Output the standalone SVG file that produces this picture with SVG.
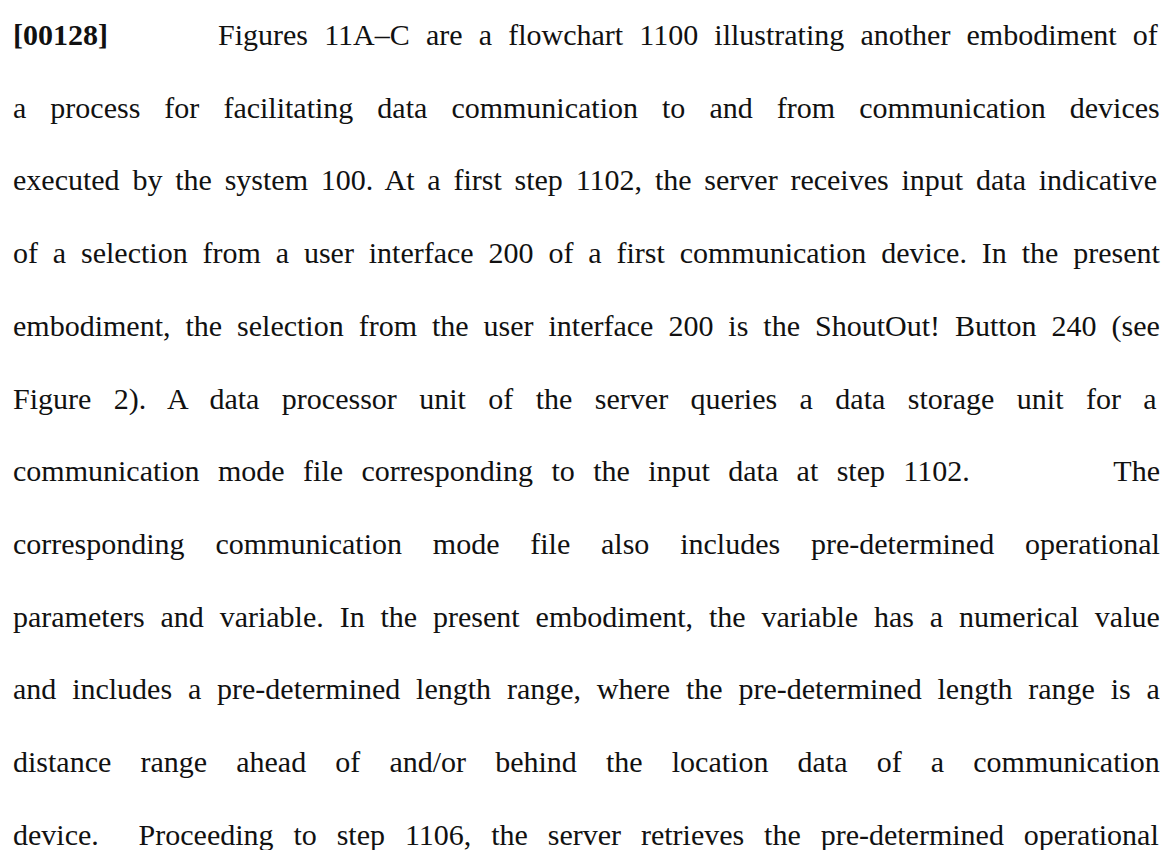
<svg xmlns="http://www.w3.org/2000/svg" width="1173" height="850" viewBox="0 0 1173 850">
  <style>
    .t { font-family: "Liberation Serif", "Times New Roman", serif; font-size: 30px; fill: #111; white-space: pre; }
    .b { font-weight: bold; }
  </style>
  <rect width="1173" height="850" fill="#fff"/>
  <!-- justified paragraph: each line stretched to the 13..1160 column by word spacing -->
  <g id="paragraph">
    <text class="t b" x="13" y="45">[00128]</text>
    <text class="t" x="218" y="45" style="word-spacing:8.66px">Figures 11A–C are a flowchart 1100 illustrating another embodiment of</text>
    <text class="t" x="13" y="117.7" style="word-spacing:16.54px">a process for facilitating data communication to and from communication devices</text>
    <text class="t" x="13" y="190.4" style="word-spacing:5.31px">executed by the system 100. At a first step 1102, the server receives input data indicative</text>
    <text class="t" x="13" y="263.1" style="word-spacing:7.37px">of a selection from a user interface 200 of a first communication device. In the present</text>
    <text class="t" x="13" y="335.8" style="word-spacing:7.47px">embodiment, the selection from the user interface 200 is the ShoutOut! Button 240 (see</text>
    <text class="t" x="13" y="408.5" style="word-spacing:14.93px">Figure 2). A data processor unit of the server queries a data storage unit for a</text>
    <text class="t" x="13" y="481.2" style="word-spacing:10.89px">communication mode file corresponding to the input data at step 1102.</text>
    <text class="t" x="1160" y="481.2" text-anchor="end">The</text>
    <text class="t" x="13" y="553.9" style="word-spacing:23.29px">corresponding communication mode file also includes pre-determined operational</text>
    <text class="t" x="13" y="626.6" style="word-spacing:8.38px">parameters and variable. In the present embodiment, the variable has a numerical value</text>
    <text class="t" x="13" y="699.3" style="word-spacing:8.32px">and includes a pre-determined length range, where the pre-determined length range is a</text>
    <text class="t" x="13" y="772" style="word-spacing:21.64px">distance range ahead of and/or behind the location data of a communication</text>
    <text class="t" x="13" y="844.7" style="word-spacing:12.4px">device.  Proceeding to step 1106, the server retrieves the pre-determined operational</text>
  </g>
</svg>
